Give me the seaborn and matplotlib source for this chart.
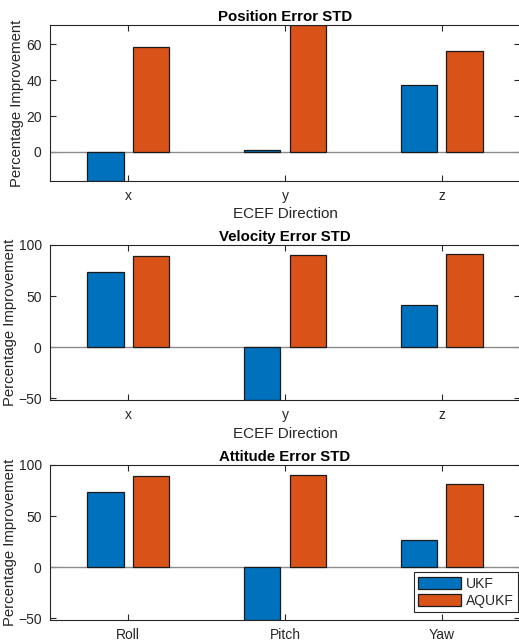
import matplotlib
matplotlib.use("Agg")
import matplotlib.pyplot as plt
import seaborn as sns
import pandas as pd

# Percentage improvement of each filter relative to the baseline
methods = ["UKF", "AQUKF"]
ecef_axes = ["x", "y", "z"]
euler_axes = ["Roll", "Pitch", "Yaw"]

position_ukf = [-16.2, 1.0, 37.1]
position_aqukf = [58.3, 70.7, 56.1]

velocity_ukf = [73.3, -51.5, 41.3]
velocity_aqukf = [89.2, 90.5, 91.5]

attitude_ukf = [73.3, -51.5, 27.0]
attitude_aqukf = [89.2, 90.5, 81.7]

titles = ["Position Error STD", "Velocity Error STD", "Attitude Error STD"]
colors = ["#0072BD", "#D95319"]

sns.set_theme(style="white")
plt.rcParams["font.family"] = ["Liberation Sans", "DejaVu Sans"]
ink = "#262626"

W, H = 519, 644
fig = plt.figure(figsize=(W / 100, H / 100), dpi=100)

# axes boxes in pixels: (left, top, right, bottom)
boxes = [(50, 25, 520, 181), (50, 245, 520, 400), (50, 465, 520, 620)]
# right edge of the rotated y label, in pixels
ylabel_edge = [24, 17, 17]

panels = [
    (ecef_axes, position_ukf, position_aqukf, [0, 20, 40, 60], None, "ECEF Direction"),
    (ecef_axes, velocity_ukf, velocity_aqukf, [-50, 0, 50, 100], 100, "ECEF Direction"),
    (euler_axes, attitude_ukf, attitude_aqukf, [-50, 0, 50, 100], 100, None),
]

for i, ((cats, ukf, aq, yticks, ytop, xlabel), box, title) in enumerate(zip(panels, boxes, titles)):
    l, t, r, b = box
    ax = fig.add_axes([l / W, (H - b) / H, (r - l) / W, (b - t) / H])
    df = pd.DataFrame({
        "cat": cats * 2,
        "val": ukf + aq,
        "method": [methods[0]] * 3 + [methods[1]] * 3,
    })
    ax.axhline(0, color="#8c8c8c", lw=1.0, zorder=1)
    sns.barplot(data=df, x="cat", y="val", hue="method", order=cats,
                hue_order=methods, palette=colors, width=0.58, gap=0.2,
                edgecolor="#1a1a1a", linewidth=0.9, saturation=1,
                ax=ax, zorder=2, legend=(i == 2))
    vals = ukf + aq
    ax.set_ylim(min(vals), ytop if ytop is not None else max(vals))
    ax.set_xlim(-0.5, 2.5)
    ax.set_yticks(yticks)
    ax.set_title(title, fontsize=10.8, fontweight="bold", color="black", pad=3)
    ax.set_ylabel("Percentage Improvement", fontsize=10.7, color=ink)
    ax.yaxis.set_label_coords((ylabel_edge[i] - l) / (r - l), 0.5)
    if xlabel:
        ax.set_xlabel(xlabel, fontsize=11, color=ink, labelpad=3)
    else:
        ax.set_xlabel("")
    for s in ax.spines.values():
        s.set_visible(True)
        s.set_color(ink)
        s.set_linewidth(0.8)
    ax.tick_params(axis="both", which="both", direction="in", length=4,
                   width=0.8, color=ink, labelcolor=ink, labelsize=10,
                   top=True, right=True, bottom=True, left=True, pad=6)
    if i == 2:
        leg = ax.legend(loc="lower right", bbox_to_anchor=(0.995, 0.05),
                        fontsize=10, frameon=True, fancybox=False,
                        edgecolor=ink, framealpha=1, handlelength=3.1,
                        handleheight=0.95, borderpad=0.3, labelspacing=0.25,
                        handletextpad=0.3, borderaxespad=0.0, title=None)
        leg.get_frame().set_linewidth(0.8)

fig.savefig("out.png", dpi=100)
